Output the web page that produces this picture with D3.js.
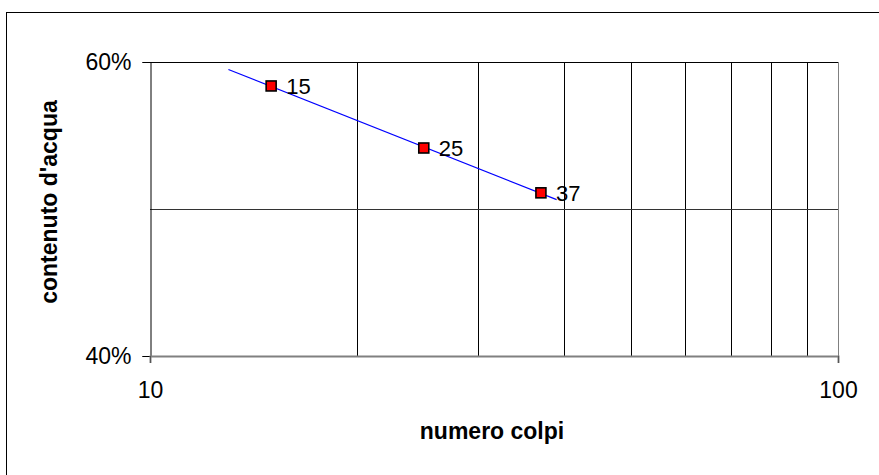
<!DOCTYPE html>
<html>
<head>
<meta charset="utf-8">
<script src="https://cdn.jsdelivr.net/npm/d3@7"></script>
<style>
  body { margin: 0; background: #fff; }
  svg { font-family: Arial, "Liberation Sans", sans-serif; }
</style>
</head>
<body>
<svg id="chart" width="879" height="475"></svg>
<script>
// dati
var colpi = [15, 25, 37];
var contenuto = [0.5837, 0.5415, 0.5110];
var etichette = ["15", "25", "37"];
var trendX = [13, 39];
var tickX = [10, 100];
var gridX = [20, 30, 40, 50, 60, 70, 80, 90];
var tickY = [0.40, 0.60];
var gridY = [0.50];

var svg = d3.select("#chart");

// cornice esterna
svg.append("rect")
    .attr("x", 6.5).attr("y", 12.5)
    .attr("width", 900).attr("height", 500)
    .attr("fill", "none").attr("stroke", "#000").attr("stroke-width", 1);

var areaSx = 150, areaDx = 838, areaSu = 62, areaGiu = 356;

var x = d3.scaleLog().domain([10, 100]).range([areaSx, areaDx]);
var y = d3.scaleLinear().domain([0.40, 0.60]).range([areaGiu, areaSu]);

// griglia verticale
svg.selectAll(".gx").data(gridX).enter().append("line")
    .attr("x1", function(d) { return Math.round(x(d)) + 0.5; })
    .attr("x2", function(d) { return Math.round(x(d)) + 0.5; })
    .attr("y1", areaSu).attr("y2", areaGiu)
    .attr("stroke", "#000").attr("stroke-width", 1);

// griglia orizzontale
svg.selectAll(".gy").data(gridY).enter().append("line")
    .attr("x1", areaSx).attr("x2", areaDx)
    .attr("y1", function(d) { return Math.round(y(d)) + 0.5; })
    .attr("y2", function(d) { return Math.round(y(d)) + 0.5; })
    .attr("stroke", "#333").attr("stroke-width", 1);

// bordo superiore e destro dell'area
svg.append("line").attr("x1", areaSx).attr("x2", areaDx)
    .attr("y1", areaSu + 0.5).attr("y2", areaSu + 0.5)
    .attr("stroke", "#000");
svg.append("line").attr("x1", areaDx + 0.5).attr("x2", areaDx + 0.5)
    .attr("y1", areaSu).attr("y2", areaGiu)
    .attr("stroke", "#808080");

// asse y
var yAxis = d3.axisLeft(y).tickValues(tickY).tickSize(8).tickPadding(11)
    .tickFormat(d3.format(".0%"));
var gy = svg.append("g").attr("transform", "translate(" + (areaSx + 0.5) + ",0)").call(yAxis);
gy.select(".domain").attr("stroke", "#000");
gy.selectAll(".tick line").attr("stroke", "#000");
gy.selectAll("text").attr("font-size", 23).attr("fill", "#000")
    .attr("font-family", "Arial, 'Liberation Sans', sans-serif");

// asse x
var xAxis = d3.axisBottom(x).tickValues(tickX).tickSize(7).tickPadding(19)
    .tickFormat(d3.format("d"));
var gx = svg.append("g").attr("transform", "translate(0," + areaGiu + ")").call(xAxis);
gx.select(".domain").attr("stroke", "#808080").attr("stroke-width", 2);
gx.selectAll(".tick line").attr("stroke", "#555");
gx.selectAll("text").attr("font-size", 23).attr("fill", "#000")
    .attr("font-family", "Arial, 'Liberation Sans', sans-serif");

// linea di tendenza (regressione logaritmica)
var lx = colpi.map(function(d) { return Math.log10(d); });
var mx = d3.mean(lx), my = d3.mean(contenuto);
var pend = d3.sum(lx, function(d, i) { return (d - mx) * (contenuto[i] - my); }) /
           d3.sum(lx, function(d) { return (d - mx) * (d - mx); });
var trend = trendX.map(function(d) { return [d, my + pend * (Math.log10(d) - mx)]; });

svg.append("path")
    .datum(trend)
    .attr("d", d3.line().x(function(d) { return x(d[0]); }).y(function(d) { return y(d[1]); }))
    .attr("fill", "none").attr("stroke", "#0000ff").attr("stroke-width", 1.2);

// punti
var punti = colpi.map(function(d, i) { return { x: d, y: contenuto[i], t: etichette[i] }; });
svg.selectAll(".pt").data(punti).enter().append("rect")
    .attr("x", function(d) { return x(d.x) - 5; })
    .attr("y", function(d) { return y(d.y) - 5; })
    .attr("width", 10).attr("height", 10)
    .attr("fill", "#ff0000").attr("stroke", "#000").attr("stroke-width", 1.6);

svg.selectAll(".lb").data(punti).enter().append("text")
    .attr("x", function(d) { return x(d.x) + 15; })
    .attr("y", function(d) { return y(d.y) + 8; })
    .attr("font-size", 22)
    .text(function(d) { return d.t; });

// titoli assi
svg.append("text")
    .attr("x", 492).attr("y", 439)
    .attr("text-anchor", "middle").attr("font-size", 23).attr("font-weight", "bold")
    .text("numero colpi");

svg.append("text")
    .attr("transform", "translate(57,202) rotate(-90)")
    .attr("text-anchor", "middle").attr("font-size", 23).attr("font-weight", "bold")
    .text("contenuto d'acqua");
</script>
</body>
</html>
